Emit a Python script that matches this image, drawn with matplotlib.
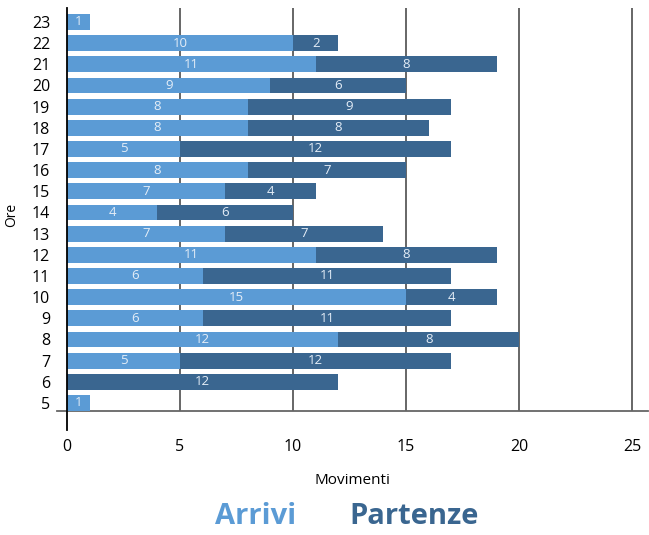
import matplotlib
matplotlib.use("Agg")
import matplotlib.pyplot as plt
import numpy as np

hours = [5, 6, 7, 8, 9, 10, 11, 12, 13, 14, 15, 16, 17, 18, 19, 20, 21, 22, 23]
arrivi = [1, 0, 5, 12, 6, 15, 6, 11, 7, 4, 7, 8, 5, 8, 8, 9, 11, 10, 1]
partenze = [0, 12, 12, 8, 11, 4, 11, 8, 7, 6, 4, 7, 12, 8, 9, 6, 8, 2, 0]

c_arr = "#5b9bd5"
c_par = "#3a6690"
font = "Open Sans"
plt.rcParams['font.family'] = [font, 'DejaVu Sans']

fig = plt.figure(figsize=(6.49, 5.35), dpi=100)
ax = fig.add_axes([57/649, 1-411/535, (648-57)/649, (411-8)/535])

y = np.arange(len(hours))
ax.barh(y, arrivi, height=0.75, color=c_arr, zorder=3)
ax.barh(y, partenze, left=arrivi, height=0.75, color=c_par, zorder=3)

for i in range(len(hours)):
    if arrivi[i] > 0:
        ax.text(arrivi[i]/2, y[i], str(arrivi[i]), ha='center', va='center',
                color='#e4edf7', fontsize=9.5, zorder=4)
    if partenze[i] > 0:
        ax.text(arrivi[i] + partenze[i]/2, y[i], str(partenze[i]), ha='center', va='center',
                color='#e4edf7', fontsize=9.5, zorder=4)

ax.set_xlim(-0.44, 25.7)
ax.set_ylim(-0.38, len(hours) - 1 + 0.66)

for gx in [5, 10, 15, 20, 25]:
    ax.axvline(gx, color='#5a5a5a', lw=1.3, zorder=1)

trans = matplotlib.transforms.blended_transform_factory(ax.transData, ax.transAxes)
ax.plot([0, 0], [-0.047, 1], transform=trans, color='black', lw=1.3, clip_on=False, zorder=5)

for s in ['top', 'right', 'left']:
    ax.spines[s].set_visible(False)
ax.spines['bottom'].set_color('#666666')
ax.spines['bottom'].set_linewidth(1.3)

ax.set_xticks([0, 5, 10, 15, 20, 25])
ax.set_xticklabels(['0', '5', '10', '15', '20', '25'])
ax.set_yticks(y)
ax.set_yticklabels([str(h) for h in hours])
ax.tick_params(axis='x', length=0, pad=20, labelsize=11.5)
ax.tick_params(axis='y', length=0, pad=5, labelsize=11.5)

ax.set_xlabel("Movimenti", fontsize=11, labelpad=13)
fig.text(12/649, 1-215/535, "Ore", rotation=90, ha='center', va='center', fontsize=10)

fig.text(256/649, 1-517/535, "Arrivi", color=c_arr, fontsize=21, fontweight='bold', ha='center', va='center')
fig.text(414/649, 1-517/535, "Partenze", color=c_par, fontsize=21, fontweight='bold', ha='center', va='center')

fig.savefig("out.png", dpi=100)
